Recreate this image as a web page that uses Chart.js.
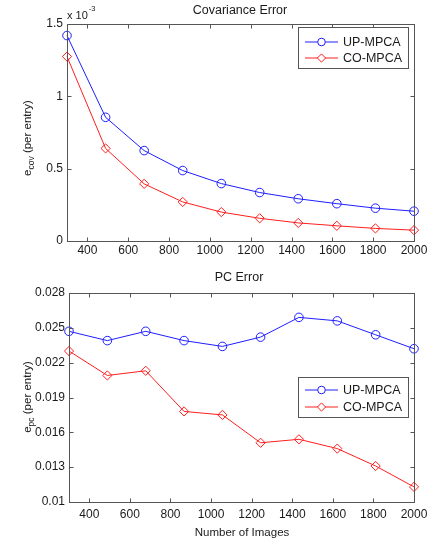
<!DOCTYPE html>
<html>
<head>
<meta charset="utf-8">
<script src="https://cdn.jsdelivr.net/npm/chart.js@4.4.1/dist/chart.umd.min.js"></script>
<style>
  body { margin: 0; background: #fff; }
  #wrap { position: relative; width: 434px; height: 539px; }
  canvas { position: absolute; left: 0; }
</style>
</head>
<body>
<div id="wrap">
  <canvas id="covChart" width="434" height="260" style="top:0"></canvas>
  <canvas id="pcChart" width="434" height="279" style="top:260px"></canvas>
</div>
<script>
// number of images (x for both plots)
const nImages = [300, 489, 678, 867, 1056, 1244, 1433, 1622, 1811, 2000];
// covariance error, in units of 1e-3
const covUp = [1.42, 0.855, 0.625, 0.487, 0.397, 0.335, 0.292, 0.258, 0.227, 0.206];
const covCo = [1.275, 0.64, 0.395, 0.27, 0.2, 0.157, 0.125, 0.105, 0.087, 0.075];
// PC error
const pcUp = [0.0247, 0.0239, 0.0247, 0.0239, 0.0234, 0.0242, 0.0259, 0.0256, 0.0244, 0.0232];
const pcCo = [0.0230, 0.0209, 0.0213, 0.0178, 0.0175, 0.0151, 0.0154, 0.0146, 0.0131, 0.0113];

const seriesNames = ['UP-MPCA', 'CO-MPCA'];
const xTicks = [400, 600, 800, 1000, 1200, 1400, 1600, 1800, 2000];
const covTicks = [0, 0.5, 1, 1.5];
const covTickLabels = ['0', '0.5', '1', '1.5'];
const pcTicks = [0.01, 0.013, 0.016, 0.019, 0.022, 0.025, 0.028];
const pcTickLabels = ['0.01', '0.013', '0.016', '0.019', '0.022', '0.025', '0.028'];

const FONT = '"Liberation Sans", Arial, Helvetica, sans-serif';
const BLUE = 'rgb(30,30,255)';
const RED = 'rgb(255,30,30)';
const AXIS = '#555';
const TEXT = '#1a1a1a';

function pts(ys) { return nImages.map((x, i) => ({x: x, y: ys[i]})); }

// matlab style box, inward ticks, titles, labels and legend
const matlabLook = {
  id: 'matlabLook',
  afterDraw(chart, args, o) {
    const ctx = chart.ctx;
    const a = chart.chartArea;
    const sx = chart.scales.x, sy = chart.scales.y;
    ctx.save();
    ctx.strokeStyle = AXIS;
    ctx.lineWidth = 1;
    const L = Math.round(a.left) + 0.5, R = Math.round(a.right) + 0.5;
    const T = Math.round(a.top) + 0.5, B = Math.round(a.bottom) + 0.5;
    ctx.strokeRect(L, T, R - L, B - T);
    ctx.beginPath();
    sx.ticks.forEach(t => {
      const px = Math.round(sx.getPixelForValue(t.value)) + 0.5;
      ctx.moveTo(px, B); ctx.lineTo(px, B - 4);
      ctx.moveTo(px, T); ctx.lineTo(px, T + 4);
    });
    sy.ticks.forEach(t => {
      const py = Math.round(sy.getPixelForValue(t.value)) + 0.5;
      ctx.moveTo(L, py); ctx.lineTo(L + 4, py);
      ctx.moveTo(R, py); ctx.lineTo(R - 4, py);
    });
    ctx.stroke();

    ctx.fillStyle = TEXT;
    // title
    ctx.font = '12.5px ' + FONT;
    ctx.textAlign = 'center';
    ctx.textBaseline = 'alphabetic';
    ctx.fillText(o.title, o.titleX, o.titleY);

    // x label
    if (o.xLabel) {
      ctx.font = '11.5px ' + FONT;
      ctx.fillText(o.xLabel, o.xLabelX, o.xLabelY);
    }

    // exponent note
    if (o.expo) {
      ctx.textAlign = 'left';
      ctx.font = '11px ' + FONT;
      ctx.fillText('x 10', 67, 19);
      const w = ctx.measureText('x 10').width;
      ctx.font = '7.5px ' + FONT;
      ctx.fillText('-3', 67 + w + 1, 11);
    }

    // y label with subscript, rotated
    ctx.save();
    ctx.translate(31, o.yLabelY);
    ctx.rotate(-Math.PI / 2);
    ctx.textAlign = 'left';
    ctx.font = '11.5px ' + FONT;
    const wE = ctx.measureText('e').width;
    const rest = ' (per entry)';
    const wR = ctx.measureText(rest).width;
    ctx.font = '8.5px ' + FONT;
    const wS = ctx.measureText(o.sub).width;
    let x0 = -(wE + wS + wR) / 2;
    ctx.font = '11.5px ' + FONT;
    ctx.fillText('e', x0, 0);
    ctx.font = '8.5px ' + FONT;
    ctx.fillText(o.sub, x0 + wE, 3);
    ctx.font = '11.5px ' + FONT;
    ctx.fillText(rest, x0 + wE + wS, 0);
    ctx.restore();

    // legend
    const lg = o.legend;
    ctx.fillStyle = '#fff';
    ctx.fillRect(lg.x, lg.y, lg.w, lg.h);
    ctx.strokeStyle = AXIS;
    ctx.strokeRect(lg.x + 0.5, lg.y + 0.5, lg.w, lg.h);
    chart.data.datasets.forEach((ds, i) => {
      const ly = lg.y + lg.rowY[i];
      ctx.strokeStyle = ds.borderColor;
      ctx.lineWidth = 1;
      ctx.beginPath();
      ctx.moveTo(lg.x + 7, ly); ctx.lineTo(lg.x + 40, ly);
      ctx.stroke();
      ctx.fillStyle = '#fff';
      Chart.helpers.drawPoint(ctx, {pointStyle: ds.pointStyle, radius: ds.pointRadius - 0.5, rotation: 0, borderWidth: 1}, lg.x + 23.5, ly);
      ctx.fillStyle = TEXT;
      ctx.font = '12.5px ' + FONT;
      ctx.textAlign = 'left';
      ctx.textBaseline = 'middle';
      ctx.fillText(ds.label, lg.x + 45, ly + 0.5);
    });
    ctx.restore();
  }
};

function dataset(label, ys, color, style, r) {
  return {
    label: label,
    data: pts(ys),
    showLine: true,
    borderColor: color,
    borderWidth: 1,
    backgroundColor: 'rgba(0,0,0,0)',
    pointStyle: style,
    pointRadius: r,
    pointBorderWidth: 1,
    pointBorderColor: color,
    pointBackgroundColor: 'rgba(0,0,0,0)',
    clip: false
  };
}

function makeChart(id, cfg) {
  return new Chart(document.getElementById(id), {
    type: 'scatter',
    data: {
      datasets: [
        dataset(seriesNames[0], cfg.up, BLUE, 'circle', 4.3),
        dataset(seriesNames[1], cfg.co, RED, 'rectRot', 4.6)
      ]
    },
    options: {
      responsive: false,
      animation: false,
      layout: {padding: {left: 0, right: 20, top: cfg.padTop, bottom: 0}},
      plugins: {
        legend: {display: false},
        tooltip: {enabled: false},
        matlabLook: cfg.look
      },
      scales: {
        x: {
          type: 'linear',
          min: 300, max: 2000,
          afterBuildTicks: s => { s.ticks = xTicks.map(v => ({value: v})); },
          afterFit: s => { s.height = cfg.xHeight; },
          grid: {display: false, drawTicks: false},
          border: {display: false},
          ticks: {color: TEXT, padding: cfg.xPad, maxRotation: 0, font: {family: FONT, size: 12}, callback: v => String(v)}
        },
        y: {
          type: 'linear',
          min: cfg.yTicks[0], max: cfg.yTicks[cfg.yTicks.length - 1],
          afterBuildTicks: s => { s.ticks = cfg.yTicks.map(v => ({value: v})); },
          afterFit: s => { s.width = cfg.yWidth; },
          grid: {display: false, drawTicks: false},
          border: {display: false},
          ticks: {
            color: TEXT, padding: 4, font: {family: FONT, size: 12},
            callback: (v, i) => cfg.yLabels[i]
          }
        }
      }
    },
    plugins: [matlabLook]
  });
}

makeChart('covChart', {
  up: covUp, co: covCo,
  yTicks: covTicks, yLabels: covTickLabels,
  padTop: 24, xHeight: 19, yWidth: 67, xPad: 2,
  look: {
    title: 'Covariance Error', titleX: 240, titleY: 14,
    sub: 'cov', yLabelY: 138, expo: true,
    legend: {x: 298, y: 27, w: 110, h: 41, rowY: [15, 31]}
  }
});

makeChart('pcChart', {
  up: pcUp, co: pcCo,
  yTicks: pcTicks, yLabels: pcTickLabels,
  padTop: 33, xHeight: 37, yWidth: 69, xPad: 5,
  look: {
    title: 'PC Error', titleX: 239, titleY: 21,
    xLabel: 'Number of Images', xLabelX: 242, xLabelY: 276,
    sub: 'pc', yLabelY: 137, expo: false,
    legend: {x: 298, y: 117, w: 110, h: 40, rowY: [13, 30]}
  }
});
</script>
</body>
</html>
